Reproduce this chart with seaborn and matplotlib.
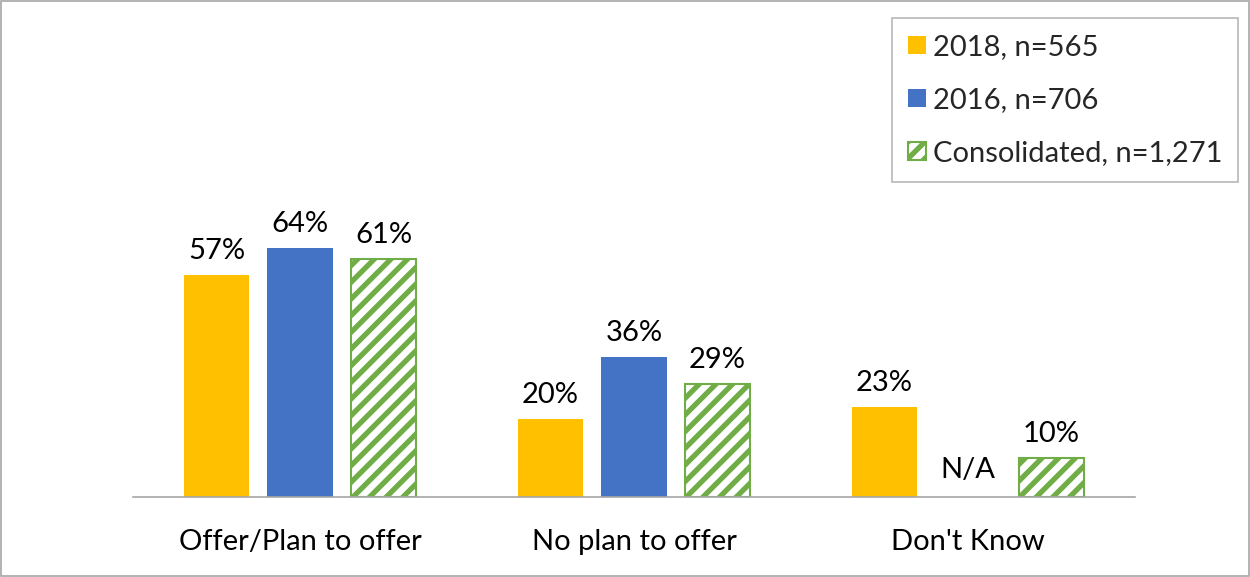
import numpy as np
import pandas as pd
import matplotlib
matplotlib.use("Agg")
import matplotlib.pyplot as plt
from matplotlib.patches import Rectangle
import seaborn as sns

categories = ["Offer/Plan to offer", "No plan to offer", "Don't Know"]
series = ["2018, n=565", "2016, n=706", "Consolidated, n=1,271"]
values_2018 = [57, 20, 23]
values_2016 = [64, 36, np.nan]
values_consolidated = [61, 29, 10]

colors = ["#FFC000", "#4472C4", "#FFFFFF"]
green = "#70AD47"
FS = 21

df = pd.DataFrame({
    "category": categories * 3,
    "series": [series[0]] * 3 + [series[1]] * 3 + [series[2]] * 3,
    "value": values_2018 + values_2016 + values_consolidated,
})

sns.set_theme(style="white")
plt.rcParams["font.family"] = ["Lato", "DejaVu Sans"]
plt.rcParams["hatch.linewidth"] = 3.8
plt.rcParams["hatch.color"] = green

fig = plt.figure(figsize=(12.5, 5.77), dpi=100)
ax = fig.add_axes([133 / 1250, 1 - 497 / 577, (1135 - 133) / 1250, 487 / 577])

sns.barplot(data=df, x="category", y="value", hue="series", order=categories,
            hue_order=series, palette=colors, saturation=1, width=0.75, gap=0.22,
            linewidth=0, ax=ax, legend=True)

# Consolidated bars: white with green diagonal stripes and outline
for bar in ax.containers[2]:
    if bar is None:
        continue
    bar.set_hatch("//")
    bar.set_edgecolor(green)
    bar.set_linewidth(1.5)

# Value labels above each bar, taken from the data
all_values = [values_2018, values_2016, values_consolidated]
for container, vals in zip(ax.containers, all_values):
    for bar in container:
        if bar is None:
            continue
        xc = bar.get_x() + bar.get_width() / 2
        idx = int(round(xc))
        ax.annotate(f"{vals[idx]:.0f}%", (xc, vals[idx]), xytext=(0, 8),
                    textcoords="offset points", ha="center", va="bottom",
                    fontsize=FS, color="#000000")

# Missing 2016 value for "Don't Know"
ref_bar = [b for b in ax.containers[1] if b is not None][0]
offset = ref_bar.get_x() + ref_bar.get_width() / 2 - round(ref_bar.get_x() + ref_bar.get_width() / 2)
ax.text(2 + offset, 7, "N/A", ha="center", va="center", fontsize=FS, color="#000000")

ax.set_ylim(0, 125)
ax.set_xlim(-0.5, 2.5)
ax.set_xlabel("")
ax.set_ylabel("")
ax.set_yticks([])
for s in ["top", "left", "right"]:
    ax.spines[s].set_visible(False)
ax.spines["bottom"].set_color("#A6A6A6")
ax.spines["bottom"].set_linewidth(1.2)

ax.set_xticks([-0.5, 0.5, 1.5, 2.5], minor=True)
ax.tick_params(axis="x", which="minor", length=8, width=1.2, color="#A6A6A6", direction="out")
ax.tick_params(axis="x", which="major", length=0, pad=23, labelsize=FS, labelcolor="#000000")

# Legend with boxed frame in the upper right
handles, labels = ax.get_legend_handles_labels()
ax.get_legend().remove()
leg = fig.legend(handles, labels, loc="upper left",
                 bbox_to_anchor=(892 / 1250, 1 - 18 / 577),
                 frameon=True, fancybox=False, fontsize=FS,
                 handlelength=0.6, handleheight=0.6, handletextpad=0.25,
                 labelspacing=0.93, borderpad=0.55, borderaxespad=0)
leg.get_frame().set_edgecolor("#A6A6A6")
leg.get_frame().set_linewidth(1.2)
leg_handles = leg.legend_handles if hasattr(leg, "legend_handles") else leg.legendHandles
leg_handles[2].set_hatch("//")
leg_handles[2].set_edgecolor(green)
leg_handles[2].set_linewidth(1.5)

# Outer chart border
fig.patches.append(Rectangle((0.001, 0.001), 0.998, 0.997, transform=fig.transFigure,
                             fill=False, edgecolor="#A6A6A6", linewidth=1.2))

fig.savefig("out.png", dpi=100)
